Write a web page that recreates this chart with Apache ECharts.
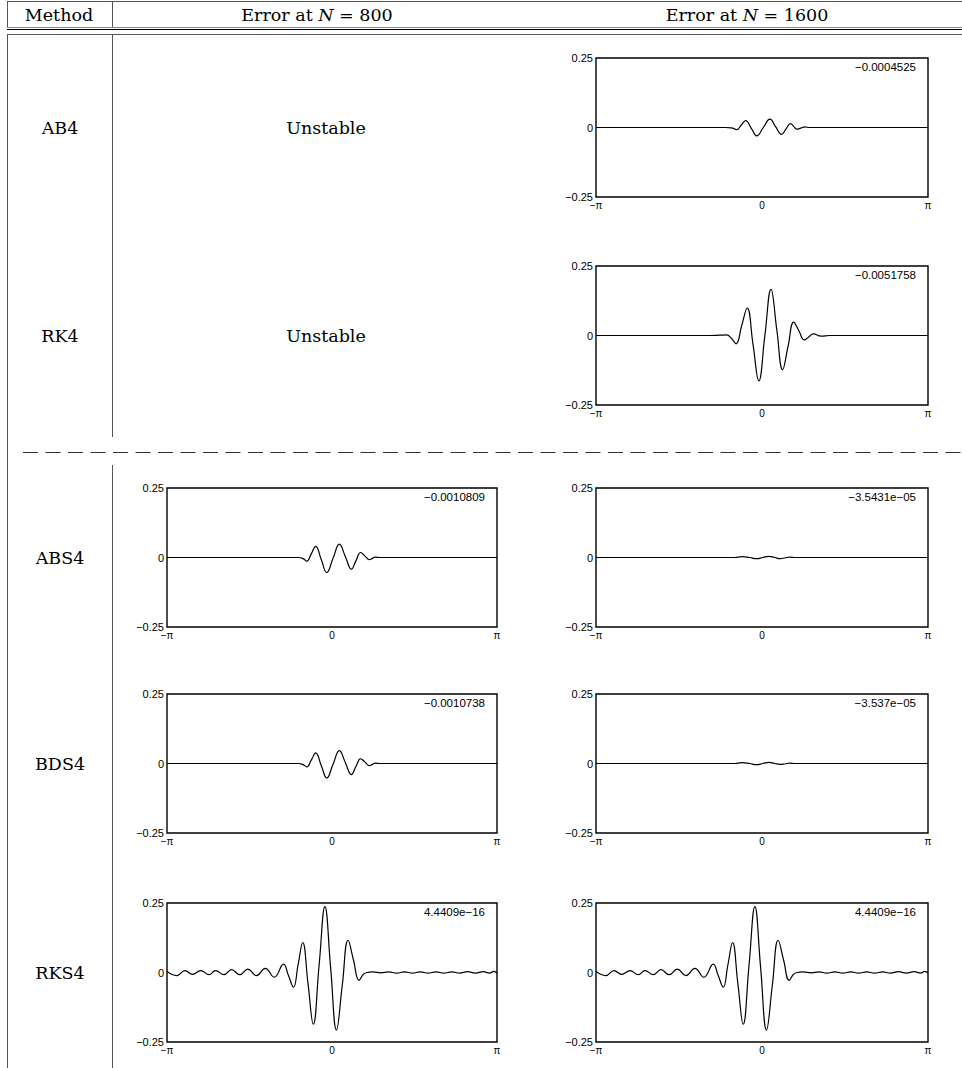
<!DOCTYPE html>
<html>
<head>
<meta charset="utf-8">
<script src="https://cdn.jsdelivr.net/npm/echarts@6/dist/echarts.min.js"></script>
<style>
html, body { margin: 0; padding: 0; background: #fff; }
#chart { width: 962px; height: 1068px; }
</style>
</head>
<body>
<div id="chart"></div>
<script>
// table rows / columns
const methods = ['AB4', 'RK4', 'ABS4', 'BDS4', 'RKS4'];
const columnTitles = ['Error at {i|N} = 800', 'Error at {i|N} = 1600'];
const xTickLabels = ['−π', '0', 'π'];
const yTickLabels = ['−0.25', '0', '0.25'];

// error curves (x in radians, y = error)
const ab4_1600_x = [-3.1416, -1.5, -0.9, -0.70, -0.58, -0.48, -0.395, -0.31, -0.205, -0.10, 0.025, 0.15, 0.26, 0.37, 0.455, 0.54, 0.60, 0.66, 0.735, 0.81, 0.90, 1.2, 3.1416];
const ab4_1600_y = [0, 0, 0, 0, -0.001, -0.008, 0.008, 0.025, -0.002, -0.030, 0.0, 0.030, 0.002, -0.025, -0.005, 0.014, 0.004, -0.006, -0.002, 0.002, 0, 0, 0];

const rk4_1600_x = [-3.1416, -1.5, -1.0, -0.80, -0.67, -0.58, -0.49, -0.385, -0.28, -0.17, -0.06, 0.055, 0.17, 0.28, 0.39, 0.495, 0.60, 0.70, 0.80, 0.885, 0.97, 1.12, 1.28, 1.6, 3.1416];
const rk4_1600_y = [0, 0, 0, 0.001, 0.002, -0.010, -0.030, 0.035, 0.099, -0.032, -0.163, 0.001, 0.166, 0.021, -0.123, -0.037, 0.048, 0.016, -0.016, -0.005, 0.006, -0.002, 0, 0, 0];

const abs4_800_x = [-3.1416, -1.5, -0.9, -0.64, -0.55, -0.48, -0.395, -0.31, -0.205, -0.10, 0.02, 0.14, 0.255, 0.37, 0.455, 0.545, 0.63, 0.71, 0.77, 0.82, 0.91, 1.3, 3.1416];
const abs4_800_y = [0, 0, 0, 0, -0.004, -0.013, 0.013, 0.040, -0.007, -0.054, -0.003, 0.048, 0.003, -0.042, -0.012, 0.018, 0.005, -0.008, -0.003, 0.001, 0, 0, 0];

const abs4_1600_x = [-3.1416, -1.5, -0.8, -0.55, -0.46, -0.37, -0.235, -0.10, 0.015, 0.13, 0.24, 0.35, 0.44, 0.53, 0.62, 0.9, 3.1416];
const abs4_1600_y = [0, 0, 0, 0, 0.001, 0.003, 0, -0.004, 0, 0.004, 0, -0.004, -0.001, 0.001, 0, 0, 0];

const bds4_800_x = [-3.1416, -1.5, -0.9, -0.64, -0.55, -0.48, -0.395, -0.31, -0.205, -0.10, 0.02, 0.14, 0.255, 0.37, 0.455, 0.545, 0.63, 0.71, 0.77, 0.82, 0.91, 1.3, 3.1416];
const bds4_800_y = [0, 0, 0, 0, -0.004, -0.012, 0.012, 0.038, -0.007, -0.052, -0.003, 0.046, 0.003, -0.040, -0.011, 0.017, 0.005, -0.008, -0.003, 0.001, 0, 0, 0];

const bds4_1600_x = [-3.1416, -1.5, -0.8, -0.55, -0.46, -0.37, -0.235, -0.10, 0.015, 0.13, 0.24, 0.35, 0.44, 0.53, 0.62, 0.9, 3.1416];
const bds4_1600_y = [0, 0, 0, 0, 0.001, 0.003, 0, -0.004, 0, 0.004, 0, -0.003, -0.001, 0.001, 0, 0, 0];

const rks4_x = [-3.1416, -2.958, -2.800, -2.656, -2.498, -2.341, -2.215, -2.057, -1.912, -1.755, -1.604, -1.440, -1.270, -1.100, -0.924, -0.829, -0.734, -0.646, -0.558, -0.457, -0.356, -0.246, -0.135, -0.025, 0.085, 0.196, 0.306, 0.410, 0.514, 0.60, 0.665, 0.78, 0.93, 1.08, 1.23, 1.38, 1.53, 1.68, 1.83, 1.98, 2.13, 2.28, 2.43, 2.58, 2.73, 2.88, 3.00, 3.08, 3.1416];
const rks4_y = [0.004, -0.011, 0.007, -0.007, 0.007, -0.008, 0.007, -0.008, 0.010, -0.008, 0.012, -0.011, 0.015, -0.017, 0.030, -0.011, -0.053, 0.027, 0.108, -0.039, -0.186, 0.025, 0.237, 0.015, -0.207, -0.045, 0.116, 0.044, -0.028, -0.006, 0.0, 0.002, -0.001, 0.002, -0.002, 0.002, -0.002, 0.002, -0.002, 0.002, -0.002, 0.002, -0.002, 0.003, -0.002, 0.003, -0.002, 0.004, -0.002];

const finalValues = [
  [null, '−0.0004525'],
  [null, '−0.0051758'],
  ['−0.0010809', '−3.5431e−05'],
  ['−0.0010738', '−3.537e−05'],
  ['4.4409e−16', '4.4409e−16'],
];

const curves = [
  [null, [ab4_1600_x, ab4_1600_y]],
  [null, [rk4_1600_x, rk4_1600_y]],
  [[abs4_800_x, abs4_800_y], [abs4_1600_x, abs4_1600_y]],
  [[bds4_800_x, bds4_800_y], [bds4_1600_x, bds4_1600_y]],
  [[rks4_x, rks4_y], [rks4_x, rks4_y]],
];

// layout
const rowTops = [58, 266, 488, 694, 903];
const colLefts = [167, 596];
const colWidths = [330, 332];
const plotH = 139;
const serif = '"DejaVu Serif", "Liberation Serif", serif';
const sans = '"Liberation Sans", Arial, sans-serif';
const ruleColor = '#555';
const textSize = 17.5;

const grid = [], xAxis = [], yAxis = [], series = [], graphic = [];

function rule(x1, y1, x2, y2, extra) {
  graphic.push({
    type: 'line', silent: true,
    shape: { x1, y1, x2, y2 },
    style: Object.assign({ stroke: ruleColor, lineWidth: 1 }, extra || {}),
  });
}
function label(text, x, y, font, size, extra) {
  graphic.push({
    type: 'text', silent: true, x, y,
    style: Object.assign({
      text, fill: '#000', fontFamily: font, fontSize: size,
      align: 'center', verticalAlign: 'middle',
    }, extra || {}),
  });
}

// table rules
rule(7, 1.5, 962, 1.5);
rule(7.5, 1.5, 7.5, 28);
rule(112.5, 1.5, 112.5, 28);
rule(7, 27.5, 962, 27.5, { stroke: '#888' });
rule(7, 29.5, 962, 29.5, { stroke: '#000' });
rule(7, 34.5, 962, 34.5);
rule(7.5, 34.5, 7.5, 1068);
rule(112.5, 34.5, 112.5, 437);
rule(112.5, 465, 112.5, 1068);
rule(23, 452.5, 962, 452.5, { lineDash: [15, 7.5], stroke: '#333' });

// header
label('Method', 59, 15, serif, textSize);
const headerRich = { i: { fontStyle: 'italic', fontFamily: serif, fontSize: textSize } };
label(columnTitles[0], 317, 15, serif, textSize, { rich: headerRich });
label(columnTitles[1], 747, 15, serif, textSize, { rich: headerRich });

methods.forEach((m, r) => {
  const top = rowTops[r];
  label(m, 60, top + plotH / 2, serif, textSize);
  for (let c = 0; c < 2; c++) {
    const curve = curves[r][c];
    if (!curve) {
      label('Unstable', colLefts[c] + colWidths[c] / 2 - 6, top + plotH / 2, serif, textSize);
      continue;
    }
    const idx = grid.length;
    grid.push({
      left: colLefts[c], top, width: colWidths[c], height: plotH,
      show: true, borderColor: '#000', borderWidth: 1.4, containLabel: false,
    });
    xAxis.push({
      type: 'value', gridIndex: idx, min: -Math.PI, max: Math.PI,
      axisLine: { show: false }, axisTick: { show: false }, splitLine: { show: false },
      axisLabel: {
        customValues: [-Math.PI, 0, Math.PI],
        showMinLabel: true, showMaxLabel: true,
        margin: 3, fontSize: 10, fontFamily: sans, color: '#000',
        formatter: v => xTickLabels[Math.round(v / Math.PI) + 1],
      },
    });
    yAxis.push({
      type: 'value', gridIndex: idx, min: -0.25, max: 0.25, interval: 0.25,
      axisLine: { show: false }, axisTick: { show: false }, splitLine: { show: false },
      axisLabel: {
        margin: 3, fontSize: 11, fontFamily: sans, color: '#000',
        formatter: v => yTickLabels[Math.round(v / 0.25) + 1],
      },
    });
    const [xs, ys] = curve;
    series.push({
      type: 'line', xAxisIndex: idx, yAxisIndex: idx,
      data: xs.map((x, i) => [x, ys[i]]),
      showSymbol: false, smooth: 0.45, silent: true,
      lineStyle: { color: '#000', width: 1.2 },
    });
    label(finalValues[r][c], colLefts[c] + colWidths[c] - 12, top + 9, sans, 11.5, { align: 'right' });
  }
});

const chart = echarts.init(document.getElementById('chart'), null, { renderer: 'svg' });
chart.setOption({
  animation: false,
  backgroundColor: '#fff',
  grid, xAxis, yAxis, series, graphic,
});
</script>
</body>
</html>
